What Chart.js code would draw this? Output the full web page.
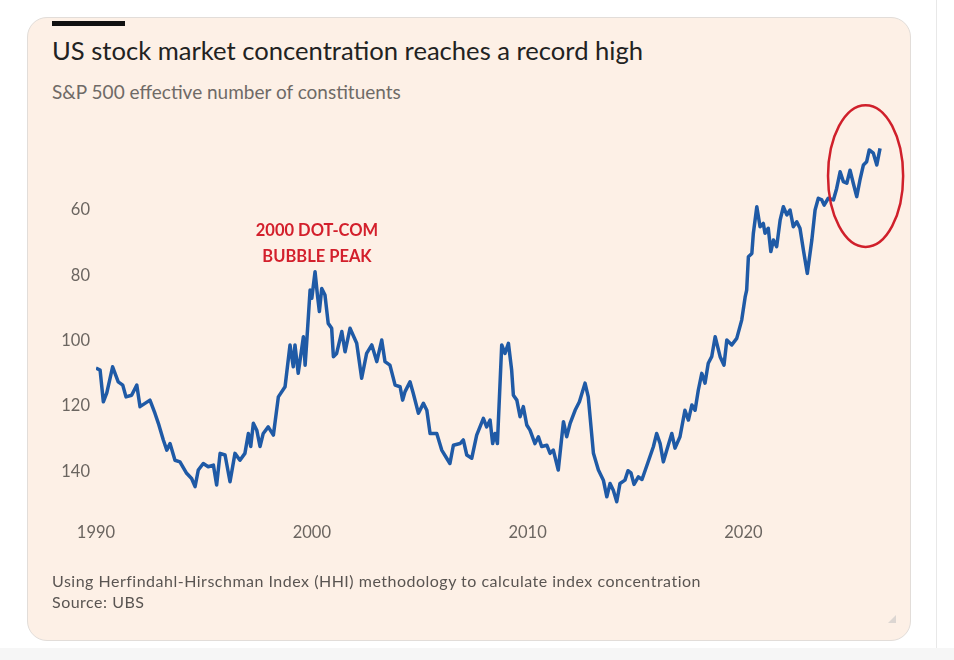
<!DOCTYPE html>
<html>
<head>
<meta charset="utf-8">
<script src="https://cdn.jsdelivr.net/npm/chart.js@4.4.1/dist/chart.umd.min.js"></script>
<style>
  html, body { margin: 0; padding: 0; }
  body { width: 954px; height: 660px; background: #fff; position: relative; overflow: hidden; font-family: Lato, sans-serif; }
  .edge { position: absolute; left: 936px; top: 0; width: 1px; height: 648px; background: #e8e8e8; }
  .band { position: absolute; left: 0; top: 648px; width: 954px; height: 12px; background: #f6f6f6; }
  .card { position: absolute; left: 27px; top: 17px; width: 882px; height: 622px; background: #fdf0e6; border: 1px solid #e2ddd9; border-radius: 20px; }
  .bar { position: absolute; left: 52px; top: 21px; width: 73px; height: 5px; background: #111; }
  .grip { position: absolute; left: 888px; top: 615px; width: 0; height: 0; border-left: 8px solid transparent; border-bottom: 8px solid #dcd6d2; }
  .txt { position: absolute; white-space: nowrap; }
  #title { left: 52px; top: 38.4px; font-size: 25.6px; line-height: 25.6px; color: #222; }
  #sub { left: 52px; top: 81.5px; font-size: 19px; line-height: 19px; color: #6f6a66; }
  #note { left: 52px; top: 569.8px; font-size: 16px; line-height: 21px; letter-spacing: 0.5px; color: #5a5552; }
  #peak { left: 217px; top: 217.3px; width: 200px; text-align: center; font-size: 16.5px; line-height: 26px; font-weight: bold; color: #d3202c; }
  canvas { position: absolute; left: 0; top: 0; }
</style>
</head>
<body>
<div class="edge"></div>
<div class="band"></div>
<div class="card"></div>
<div class="bar"></div>
<div class="grip"></div>
<div class="txt" id="title">US stock market concentration reaches a record high</div>
<div class="txt" id="sub">S&amp;P 500 effective number of constituents</div>
<canvas id="chart" width="954" height="660"></canvas>
<div class="txt" id="peak">2000 DOT-COM<br>BUBBLE PEAK</div>
<div class="txt" id="note">Using Herfindahl-Hirschman Index (HHI) methodology to calculate index concentration<br>Source: UBS</div>

<script>
// dates as decimal years
const years = [
  1990.00, 1990.19, 1990.34, 1990.50, 1990.77, 1991.03, 1991.24, 1991.39, 1991.65, 1991.89,
  1992.04, 1992.27, 1992.50, 1992.73, 1992.89, 1993.12, 1993.28, 1993.43, 1993.66, 1993.89,
  1994.20, 1994.43, 1994.59, 1994.74, 1994.97, 1995.20, 1995.44, 1995.59, 1995.75, 1995.98,
  1996.21, 1996.44, 1996.67, 1996.90, 1997.06, 1997.17, 1997.29, 1997.45, 1997.60, 1997.75,
  1997.98, 1998.22, 1998.45, 1998.76, 1998.99, 1999.14, 1999.22, 1999.37, 1999.61, 1999.69,
  1999.76, 1999.92, 2000.00, 2000.15, 2000.26, 2000.35, 2000.46, 2000.61, 2000.76, 2000.92,
  2001.00, 2001.15, 2001.39, 2001.54, 2001.77, 2002.08, 2002.31, 2002.54, 2002.78, 2003.01,
  2003.24, 2003.39, 2003.62, 2003.86, 2004.09, 2004.21, 2004.32, 2004.55, 2004.70, 2004.94,
  2005.17, 2005.33, 2005.48, 2005.79, 2006.02, 2006.25, 2006.40, 2006.56, 2006.87, 2007.02,
  2007.18, 2007.41, 2007.64, 2007.95, 2008.10, 2008.26, 2008.38, 2008.49, 2008.60, 2008.80,
  2008.95, 2009.11, 2009.26, 2009.34, 2009.50, 2009.65, 2009.80, 2009.96, 2010.11, 2010.34,
  2010.50, 2010.65, 2010.89, 2011.04, 2011.19, 2011.42, 2011.66, 2011.81, 2011.97, 2012.20,
  2012.40, 2012.66, 2012.81, 2013.05, 2013.28, 2013.51, 2013.67, 2013.82, 2013.97, 2014.13,
  2014.28, 2014.51, 2014.65, 2014.79, 2014.93, 2015.13, 2015.30, 2015.59, 2015.83, 2015.98,
  2016.14, 2016.29, 2016.45, 2016.68, 2016.83, 2017.06, 2017.29, 2017.45, 2017.61, 2017.76,
  2017.91, 2018.07, 2018.22, 2018.37, 2018.53, 2018.69, 2018.92, 2019.10, 2019.23, 2019.46,
  2019.69, 2019.92, 2020.08, 2020.15, 2020.23, 2020.39, 2020.46, 2020.62, 2020.77, 2020.92,
  2021.00, 2021.15, 2021.27, 2021.39, 2021.54, 2021.70, 2021.85, 2022.01, 2022.16, 2022.31,
  2022.47, 2022.62, 2022.78, 2022.96, 2023.17, 2023.32, 2023.47, 2023.63, 2023.74, 2023.93,
  2024.17, 2024.32, 2024.48, 2024.63, 2024.79, 2024.94, 2025.09, 2025.25, 2025.40, 2025.56,
  2025.71, 2025.83, 2026.02, 2026.18, 2026.33
];

// S&P 500 effective number of constituents
const effective = [
  108.4, 109.0, 118.7, 116.0, 108.0, 112.6, 113.6, 117.2, 116.7, 113.6,
  120.2, 119.2, 118.2, 122.2, 125.3, 130.4, 133.5, 131.5, 136.6, 137.1,
  140.6, 142.2, 144.7, 139.6, 137.6, 138.6, 138.1, 144.2, 134.5, 135.0,
  143.2, 134.5, 136.6, 134.5, 128.4, 132.4, 125.3, 127.4, 132.4, 128.4,
  126.4, 128.9, 117.2, 114.1, 101.3, 108.0, 101.3, 110.0, 98.8, 107.5,
  100.8, 84.5, 87.0, 78.9, 86.0, 91.1, 84.0, 86.0, 94.7, 96.2,
  104.9, 103.9, 97.2, 103.4, 96.2, 100.8, 111.5, 103.9, 101.3, 106.4,
  99.8, 106.4, 107.5, 113.6, 114.1, 118.2, 115.6, 112.6, 116.1, 122.2,
  119.2, 121.3, 128.4, 128.4, 133.5, 136.0, 137.6, 132.0, 131.5, 130.4,
  135.0, 136.0, 128.9, 123.8, 126.4, 124.3, 131.5, 128.4, 131.5, 101.3,
  103.9, 100.8, 109.0, 116.7, 118.2, 123.3, 120.2, 125.8, 127.4, 131.5,
  129.4, 132.4, 132.0, 134.5, 133.5, 139.6, 124.8, 129.4, 125.3, 121.3,
  118.7, 113.0, 117.2, 134.5, 139.6, 142.7, 147.8, 143.7, 145.8, 149.3,
  143.7, 142.7, 139.8, 140.5, 144.0, 141.7, 142.5, 137.0, 132.4, 128.4,
  131.5, 137.1, 133.5, 128.4, 132.9, 129.4, 121.3, 124.3, 119.7, 121.3,
  115.1, 110.0, 113.0, 106.9, 104.9, 98.8, 104.9, 107.5, 99.8, 101.3,
  99.3, 93.7, 86.6, 84.5, 74.3, 73.3, 67.1, 59.0, 65.1, 64.1,
  67.1, 65.6, 72.7, 69.2, 71.2, 63.1, 59.0, 61.5, 60.0, 65.1,
  63.6, 65.6, 72.3, 79.4, 69.2, 60.0, 56.4, 56.9, 58.5, 56.4,
  56.9, 53.4, 48.3, 51.3, 51.8, 47.8, 51.8, 55.9, 50.8, 46.2,
  45.2, 41.6, 42.6, 46.2, 41.1
];

const xTicks = [1990, 2000, 2010, 2020];
const yTicks = [60, 80, 100, 120, 140];

// red ring around the latest readings, in data units
const ringCentre = { x: 2025.66, y: 49.6 };
const ringRadius = { x: 1.74, y: 21.7 };

const ring = {
  id: 'ring',
  afterDatasetsDraw(chart) {
    const { ctx, scales: { x, y } } = chart;
    const cx = x.getPixelForValue(ringCentre.x);
    const cy = y.getPixelForValue(ringCentre.y);
    const rx = Math.abs(x.getPixelForValue(ringCentre.x + ringRadius.x) - cx);
    const ry = Math.abs(y.getPixelForValue(ringCentre.y + ringRadius.y) - cy);
    ctx.save();
    ctx.beginPath();
    ctx.ellipse(cx, cy, rx, ry, 0, 0, Math.PI * 2);
    ctx.strokeStyle = '#d0202b';
    ctx.lineWidth = 2.5;
    ctx.stroke();
    ctx.restore();
  }
};

const tickFont = { family: 'Lato', size: 16.5 };

new Chart(document.getElementById('chart'), {
  type: 'line',
  data: {
    datasets: [{
      data: years.map((yr, i) => ({ x: yr, y: effective[i] })),
      borderColor: '#1f5aa6',
      borderWidth: 3.5,
      pointRadius: 0,
      tension: 0,
      borderJoinStyle: 'round',
      fill: false
    }]
  },
  options: {
    responsive: false,
    animation: false,
    layout: { padding: { left: 36, right: 59.5, top: 144.7, bottom: 116 } },
    plugins: { legend: { display: false }, tooltip: { enabled: false } },
    scales: {
      x: {
        type: 'linear',
        min: 1990,
        max: 2027,
        grid: { display: false, drawTicks: false },
        border: { display: false },
        afterBuildTicks: s => { s.ticks = xTicks.map(v => ({ value: v })); },
        afterFit: s => { s.height = 40; },
        ticks: { color: '#6b6560', font: tickFont, padding: 19, maxRotation: 0, callback: v => String(v) }
      },
      y: {
        reverse: true,
        min: 40,
        max: 150,
        grid: { display: false, drawTicks: false },
        border: { display: false },
        afterBuildTicks: s => { s.ticks = yTicks.map(v => ({ value: v })); },
        afterFit: s => { s.width = 60; },
        ticks: { color: '#6b6560', font: tickFont, padding: 6, callback: v => String(v) }
      }
    }
  },
  plugins: [ring]
});
</script>
</body>
</html>
